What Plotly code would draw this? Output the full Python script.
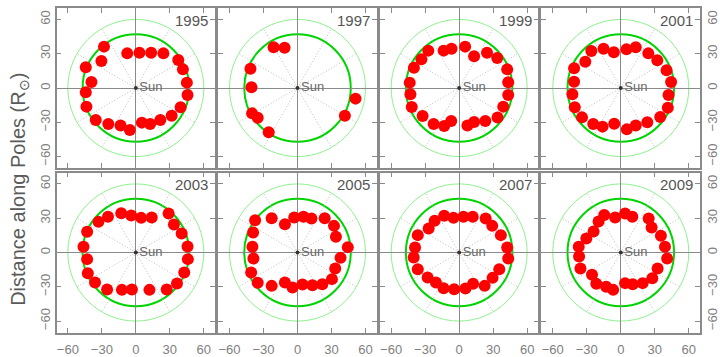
import plotly.graph_objects as go
import numpy as np

# ---------------- data ----------------
years = ["1995", "1997", "1999", "2001", "2003", "2005", "2007", "2009"]

x_1995 = [-28.1, -30.4, -44.2, -39.2, -44.2, -43.6, -35.4, -24.3, -13.5, -5.3, 5.3, 12.6, 21.6, 31.6, 39.5, 45.6, 45.0, 41.5, 37.4, 24.3, 13.5, 3.2, -7.6]
y_1995 = [36.2, 23.6, 18.1, 5.2, -3.8, -16.3, -28.0, -31.5, -32.9, -36.7, -30.3, -31.5, -28.0, -24.2, -16.9, -6.1, 4.7, 16.3, 24.5, 30.3, 30.9, 30.9, 30.3]

x_1997 = [-21.1, -11.4, -41.5, -40.6, -40.1, -35.1, -25.4, 41.8, 51.2]
y_1997 = [35.6, 35.3, 16.9, 0.6, -22.2, -26.0, -38.8, -24.2, -9.3]

x_1999 = [-27.2, -33.3, -39.9, -43.6, -43.0, -41.8, -32.2, -22.5, -13.2, -7.0, 7.3, 13.2, 23.1, 33.9, 38.9, 43.3, 43.3, 42.4, 33.6, 24.6, 13.2, 5.3, -6.7, -13.7]
y_1999 = [32.7, 25.1, 17.8, 4.7, -5.5, -16.6, -24.5, -31.5, -33.2, -28.9, -32.9, -29.7, -28.9, -25.9, -16.3, -6.1, 5.0, 16.3, 26.2, 30.9, 27.7, 36.2, 34.4, 32.7]

x_2001 = [-26.0, -31.3, -41.2, -41.2, -42.7, -40.6, -34.2, -24.3, -16.1, -5.8, 5.3, 13.2, 23.4, 34.8, 41.5, 42.1, 44.4, 40.4, 32.2, 24.3, 13.2, 5.0, -6.1, -15.2]
y_2001 = [32.4, 23.0, 17.2, 5.5, -5.5, -16.9, -25.7, -31.5, -33.8, -31.2, -36.2, -32.9, -30.0, -25.4, -17.2, -6.1, 5.2, 15.5, 24.2, 30.3, 35.6, 33.8, 31.2, 34.4]

x_2003 = [-12.9, -4.1, 4.7, 14.0, 28.9, -24.6, -33.0, -43.0, -46.2, -43.0, -42.4, -36.0, -25.4, -12.3, -3.5, 12.0, 27.2, 36.3, 42.7, 45.9, 45.6, 40.4, 33.6]
y_2003 = [34.4, 32.4, 30.3, 30.6, 34.1, 31.2, 26.8, 18.1, 5.0, -5.8, -18.1, -26.2, -32.4, -32.7, -32.4, -32.7, -32.4, -27.1, -17.5, -5.8, 5.2, 16.6, 24.5]

x_2005 = [-37.4, -22.8, -11.1, -2.9, 5.3, 12.3, 24.0, 32.2, 33.9, 44.4, 38.0, 33.3, 30.4, 21.9, 13.2, 4.4, -4.4, -11.1, -22.8, -35.1, -40.9, -38.9, -39.8, -39.2]
y_2005 = [28.3, 30.0, 24.8, 30.6, 31.2, 29.7, 30.0, 23.3, 13.7, 4.7, -4.7, -14.0, -23.3, -27.7, -28.6, -28.0, -30.6, -26.2, -29.2, -26.5, -17.5, -5.2, 5.0, 17.5]

x_2007 = [-13.2, -5.0, 3.8, 12.0, 23.4, 29.2, 36.8, 42.4, 43.3, 35.4, 29.5, 22.5, 12.3, 5.6, -4.4, -13.7, -20.5, -27.8, -36.5, -40.1, -38.9, -36.5, -26.9, -21.6]
y_2007 = [32.1, 30.3, 31.2, 31.2, 29.7, 23.3, 15.2, 4.4, -5.2, -14.6, -22.2, -29.2, -27.4, -31.5, -32.1, -31.2, -26.2, -21.9, -14.6, -4.4, 4.4, 15.2, 21.0, 27.7]

x_2009 = [-14.6, -19.6, -24.0, -30.4, -37.1, -36.8, -35.6, -25.4, -21.6, -12.9, -6.7, 3.8, 10.5, 19.3, 27.8, 32.5, 40.9, 39.0, 35.4, 27.2, 24.6, 10.2, 3.8, -5.0]
y_2009 = [32.9, 27.1, 18.4, 12.2, 5.0, -3.5, -14.0, -19.5, -27.4, -30.0, -32.7, -26.8, -27.7, -26.8, -22.5, -14.0, -5.2, 5.0, 14.6, 21.9, 29.7, 31.2, 34.1, 30.6]

xs = [x_1995, x_1997, x_1999, x_2001, x_2003, x_2005, x_2007, x_2009]
ys = [y_1995, y_1997, y_1999, y_2001, y_2003, y_2005, y_2007, y_2009]

tick_vals = [-60, -30, 0, 30, 60]
ring_radii = [47, 60]
spoke_angles = [30, 60, 120, 150, 210, 240, 300, 330]
spoke_len = 60

# ---------------- figure ----------------
W, H = 720, 357
col_left = [57, 220, 383, 546]
row_top = [8, 172.5]
PW, PH = 160, 160

FONT = "Liberation Sans"
FRAME = "#8a8a8a"

fig = go.Figure()
shapes = []
annotations = []
layout = {}

for k, year in enumerate(years):
    r, c = divmod(k, 4)
    sfx = "" if k == 0 else str(k + 1)
    xname, yname = "x" + sfx, "y" + sfx

    x0 = col_left[c] / W
    x1 = (col_left[c] + PW) / W
    y1 = 1 - row_top[r] / H
    y0 = 1 - (row_top[r] + PH) / H

    common = dict(range=[-70, 70], tickvals=tick_vals, ticks="inside", ticklen=5,
                  tickwidth=1.2, tickcolor=FRAME, showline=True, linecolor=FRAME,
                  linewidth=1.5, mirror="ticks", showgrid=False, zeroline=True,
                  zerolinecolor="#8a8a8a", zerolinewidth=1.2, fixedrange=True,
                  tickfont=dict(family=FONT, size=13, color="#808080"))

    layout["xaxis" + sfx] = dict(common, domain=[x0, x1], anchor=yname,
                                 showticklabels=(r == 1), ticklabelstandoff=4)
    ydict = dict(common, domain=[y0, y1], anchor=xname,
                 showticklabels=(c == 0 or c == 3))
    ydict["tickangle"] = -90
    if c == 3:
        ydict["side"] = "right"
    layout["yaxis" + sfx] = ydict

    # rings
    for rad, col, w in [(ring_radii[1], "#8ef08e", 1), (ring_radii[0], "#00d400", 2)]:
        shapes.append(dict(type="circle", xref=xname, yref=yname, x0=-rad, x1=rad,
                           y0=-rad, y1=rad, line=dict(color=col, width=w), layer="below"))
    # dotted spokes
    for a in spoke_angles:
        t = np.deg2rad(a)
        shapes.append(dict(type="line", xref=xname, yref=yname, x0=0, y0=0,
                           x1=spoke_len * np.cos(t), y1=spoke_len * np.sin(t),
                           line=dict(color="#bdbdbd", width=1, dash="1px,2px"), layer="below"))

    fig.add_trace(go.Scatter(x=xs[k], y=ys[k], mode="markers", xaxis=xname, yaxis=yname,
                             marker=dict(color="#ff0000", size=12, line=dict(width=0)),
                             showlegend=False, hoverinfo="skip"))
    fig.add_trace(go.Scatter(x=[0], y=[0], mode="markers+text", text=["Sun"],
                             textposition="middle right", xaxis=xname, yaxis=yname,
                             marker=dict(color="#333333", size=4),
                             textfont=dict(family=FONT, size=13, color="#6a6a6a"),
                             showlegend=False, hoverinfo="skip"))

    annotations.append(dict(text=year, xref=xname + " domain", yref=yname + " domain",
                            x=0.97, y=0.925, xanchor="right", yanchor="middle",
                            showarrow=False,
                            font=dict(family=FONT, size=15, color="#555555")))

annotations.append(dict(text="Distance along Poles (R<sub>⊙</sub>)", xref="paper", yref="paper",
                        x=19 / W, y=1 - 189 / H, xanchor="center", yanchor="middle",
                        textangle=-90, showarrow=False,
                        font=dict(family=FONT, size=20, color="#5a5a5a")))

fig.update_layout(**layout)
fig.update_layout(width=W, height=H, margin=dict(l=0, r=0, t=0, b=0),
                  paper_bgcolor="white", plot_bgcolor="white",
                  shapes=shapes, annotations=annotations, showlegend=False)

fig.write_html("out.html")
